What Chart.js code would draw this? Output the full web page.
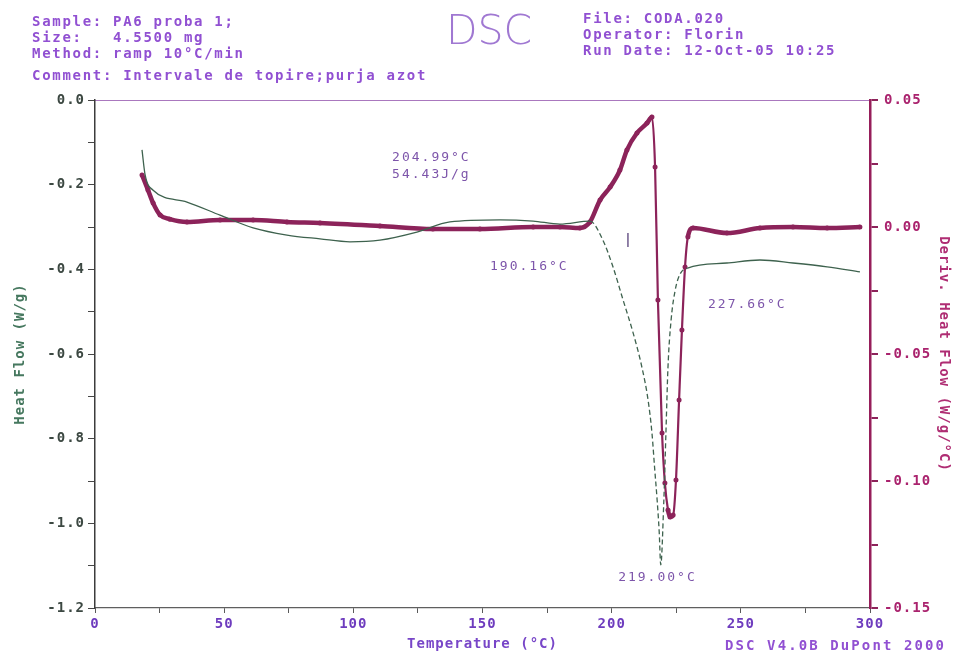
<!DOCTYPE html>
<html>
<head>
<meta charset="utf-8">
<script src="https://cdn.jsdelivr.net/npm/chart.js@4.4.0/dist/chart.umd.min.js"></script>
<style>
  body { margin: 0; background: #fff; }
  #wrap { position: relative; width: 955px; height: 657px; }
  .hd {
    position: absolute;
    font: bold 14px "DejaVu Sans Mono", monospace;
    letter-spacing: 1.7px;
    line-height: 16px;
    color: rgb(145, 80, 210);
    white-space: pre;
  }
  #dsc {
    position: absolute; left: 446px; top: 10px;
    font: 200 41px "DejaVu Sans", sans-serif; line-height: 41px;
    color: rgb(160, 120, 210);
  }
</style>
</head>
<body>
<div id="wrap">
  <canvas id="chart"></canvas>
  <div class="hd" style="left:32px;top:13px">Sample: PA6 proba 1;</div>
  <div class="hd" style="left:32px;top:29px">Size:   4.5500 mg</div>
  <div class="hd" style="left:32px;top:45px">Method: ramp 10°C/min</div>
  <div class="hd" style="left:32px;top:67px">Comment: Intervale de topire;purja azot</div>
  <div id="dsc">DSC</div>
  <div class="hd" style="left:583px;top:10px">File: CODA.020</div>
  <div class="hd" style="left:583px;top:26px">Operator: Florin</div>
  <div class="hd" style="left:583px;top:42px">Run Date: 12-Oct-05 10:25</div>
  <div class="hd" style="left:725px;top:637px;letter-spacing:2.1px">DSC V4.0B DuPont 2000</div>
</div>
<script>
// heat flow (W/g) vs temperature
const hfTemp = [18.2, 19.4, 22.5, 35.6, 48.4, 61.2, 74.3, 87.1, 98.7, 110.3, 124.6, 137.4, 156.8, 169.6, 180.0, 191.6,
  196.6, 200.5, 204.4, 208.3, 211.7, 214.1, 215.6, 216.6, 217.6, 218.4, 219.0,
  220.2, 221.0, 221.8, 223.0, 224.6, 226.5, 229.4, 244.6, 257.4, 270.2, 283.4, 296.1];
const hfValues = [-0.118, -0.177, -0.213, -0.241, -0.272, -0.302, -0.319, -0.328, -0.335, -0.331, -0.312, -0.288, -0.283, -0.286, -0.293, -0.286,
  -0.331, -0.394, -0.472, -0.550, -0.631, -0.709, -0.787, -0.867, -0.945, -1.020, -1.098,
  -0.945, -0.787, -0.631, -0.520, -0.449, -0.411, -0.397, -0.385, -0.378, -0.385, -0.394, -0.406];

// derivative heat flow (W/g/°C)
const derivTemp = [18.2, 20.5, 22.5, 25.2, 29.0, 35.6, 48.4, 61.2, 74.3, 87.1, 110.3, 130.8, 149.0, 169.6, 180.0, 187.7,
  191.6, 195.5, 199.4, 203.2, 205.9, 209.8, 213.7, 215.6,
  216.8, 217.9, 219.5, 220.6, 221.8, 222.6, 223.8, 224.9, 226.1, 227.2, 228.4, 229.5, 231.5,
  244.6, 257.4, 270.2, 283.4, 296.1];
const derivValues = [0.0205, 0.0146, 0.0094, 0.0047, 0.0031, 0.0020, 0.0028, 0.0028, 0.0020, 0.0016, 0.0004, -0.0008, -0.0008, 0.0000, 0.0000, -0.0004,
  0.0020, 0.0106, 0.0157, 0.0224, 0.0303, 0.0370, 0.0409, 0.0433,
  0.0236, -0.0287, -0.0811, -0.1008, -0.1114, -0.1142, -0.1134, -0.0996, -0.0681, -0.0406, -0.0157, -0.0039, -0.0004,
  -0.0024, -0.0004, 0.0000, -0.0004, 0.0000];

const tempTicks = [0, 50, 100, 150, 200, 250, 300];
const heatFlowTicks = [0.0, -0.2, -0.4, -0.6, -0.8, -1.0, -1.2];
const derivTicks = [0.05, 0.00, -0.05, -0.10, -0.15];

// annotation text: [label, temperature, heat flow]
const notes = [
  ["204.99°C", 115.0, -0.135],
  ["54.43J/g", 115.0, -0.177],
  ["190.16°C", 152.9, -0.394],
  ["227.66°C", 237.3, -0.484],
  ["219.00°C", 202.5, -1.129],
];

const green = "rgb(62, 98, 78)";
const plum = "rgb(140, 35, 90)";
const tickFont = { family: "DejaVu Sans Mono", size: 14, weight: "bold" };

const pick = (list, v, digits) => {
  const t = list.find((t) => Math.abs(t - v) < 1e-6);
  return t === undefined ? "" : t.toFixed(digits);
};

const notesPlugin = {
  id: "notes",
  beforeDraw(chart) {
    chart.ctx.letterSpacing = "1px";
  },
  afterDatasetsDraw(chart) {
    const { ctx, scales: { x, y } } = chart;
    ctx.save();
    ctx.font = '13px "DejaVu Sans Mono"';
    ctx.letterSpacing = "2px";
    ctx.fillStyle = "rgb(125, 85, 170)";
    ctx.textBaseline = "middle";
    notes.forEach(([label, t, v]) =>
      ctx.fillText(label, x.getPixelForValue(t), y.getPixelForValue(v))
    );
    // partial-area marker
    ctx.strokeStyle = "rgb(110, 90, 140)";
    ctx.lineWidth = 1.5;
    ctx.beginPath();
    ctx.moveTo(x.getPixelForValue(206.3), y.getPixelForValue(-0.314));
    ctx.lineTo(x.getPixelForValue(206.3), y.getPixelForValue(-0.347));
    ctx.stroke();
    ctx.restore();
  },
};

new Chart(document.getElementById("chart"), {
  type: "line",
  data: {
    datasets: [
      {
        label: "Heat Flow",
        data: hfTemp.map((t, i) => ({ x: t, y: hfValues[i] })),
        yAxisID: "y",
        borderColor: green,
        borderWidth: 1.3,
        pointRadius: 0,
        cubicInterpolationMode: "monotone",
        segment: {
          borderDash: (c) => (c.p0.parsed.x > 190 && c.p1.parsed.x < 230 ? [5, 3] : undefined),
        },
      },
      {
        label: "Deriv. Heat Flow",
        data: derivTemp.map((t, i) => ({ x: t, y: derivValues[i] })),
        yAxisID: "y1",
        borderColor: plum,
        backgroundColor: plum,
        borderWidth: 4.5,
        pointRadius: 2.5,
        pointBorderWidth: 0,
        cubicInterpolationMode: "monotone",
        segment: {
          borderWidth: (c) => (Math.abs(c.p1.parsed.y - c.p0.parsed.y) > 0.01 ? 2.2 : 4.5),
        },
      },
    ],
  },
  options: {
    responsive: true,
    maintainAspectRatio: false,
    animation: false,
    layout: { padding: { top: 100, left: 0, right: 0, bottom: 0 } },
    plugins: { legend: { display: false }, tooltip: { enabled: false } },
    scales: {
      x: {
        type: "linear",
        min: 0,
        max: 300,
        afterFit: (s) => { s.height = 49; },
        ticks: {
          stepSize: 25,
          autoSkip: false,
          maxRotation: 0,
          padding: 3,
          color: "rgb(110, 60, 190)",
          font: tickFont,
          callback: (v) => pick(tempTicks, v, 0),
        },
        grid: { drawOnChartArea: false, tickLength: 5, color: "rgb(90, 90, 90)" },
        border: { color: "rgb(95, 95, 95)", width: 1.2 },
        title: {
          display: true,
          text: "Temperature (°C)",
          color: "rgb(120, 70, 200)",
          font: tickFont,
          padding: { top: 0, bottom: 4 },
        },
      },
      x2: {
        type: "linear",
        position: "top",
        min: 0,
        max: 300,
        afterFit: (s) => { s.height = 0; },
        ticks: { display: false },
        grid: { display: false },
        border: { color: "rgb(170, 120, 190)", width: 1, dash: [5, 3] },
      },
      y: {
        position: "left",
        min: -1.2,
        max: 0,
        afterFit: (s) => { s.width = 95; },
        ticks: {
          stepSize: 0.1,
          autoSkip: false,
          padding: 3,
          color: "rgb(60, 72, 66)",
          font: tickFont,
          callback: (v) => pick(heatFlowTicks, v, 1),
        },
        grid: { drawOnChartArea: false, tickLength: 7, color: "rgb(70, 70, 70)" },
        border: { color: "rgb(60, 60, 60)", width: 1.5 },
        title: {
          display: true,
          text: "Heat Flow (W/g)",
          color: "rgb(70, 120, 95)",
          font: tickFont,
          padding: { top: 12, bottom: 0 },
        },
      },
      y1: {
        position: "right",
        min: -0.15,
        max: 0.05,
        afterFit: (s) => { s.width = 85; },
        ticks: {
          stepSize: 0.025,
          autoSkip: false,
          padding: 6,
          color: "rgb(170, 35, 110)",
          font: tickFont,
          callback: (v) => pick(derivTicks, v, 2),
        },
        grid: { drawOnChartArea: false, tickLength: 8, color: plum, lineWidth: 2 },
        border: { color: "rgb(150, 30, 90)", width: 2.5 },
        title: {
          display: true,
          text: "Deriv. Heat Flow (W/g/°C)",
          color: "rgb(175, 45, 115)",
          font: tickFont,
          padding: { top: 3, bottom: 0 },
        },
      },
    },
  },
  plugins: [notesPlugin],
});
</script>
</body>
</html>
